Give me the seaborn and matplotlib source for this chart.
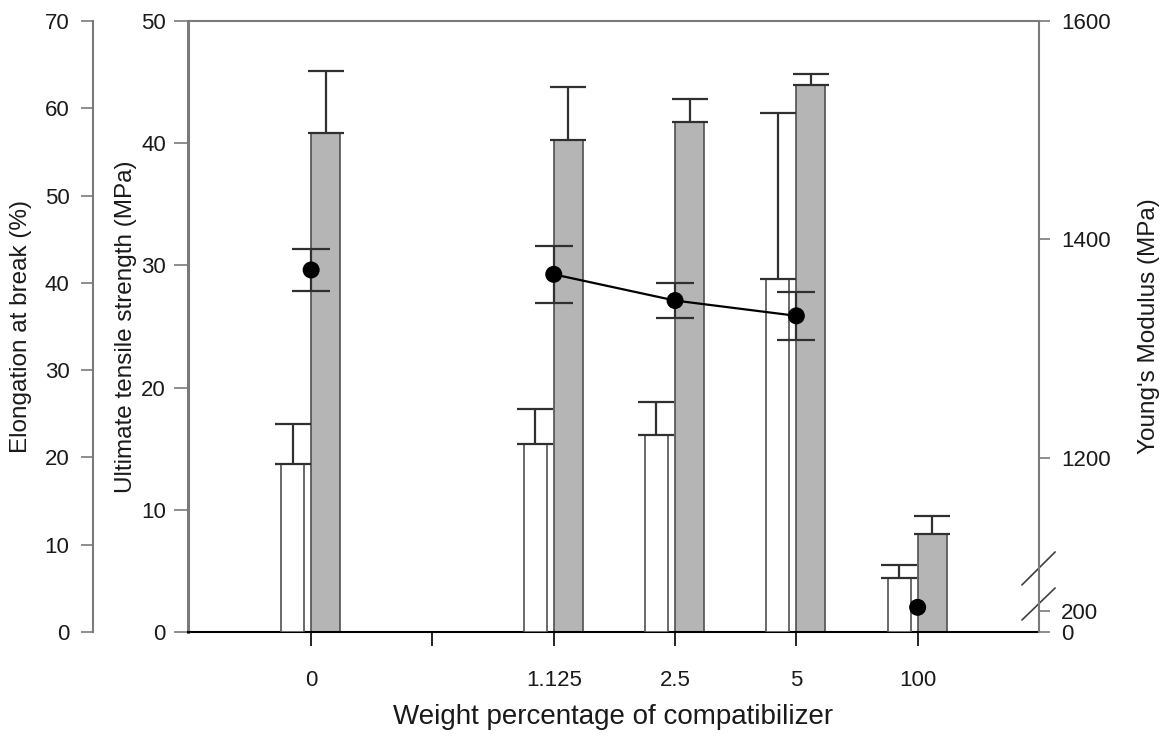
import numpy as np
import pandas as pd
import matplotlib
matplotlib.use('Agg')
import matplotlib.pyplot as plt
import seaborn as sns

# 数据
categories = ['0', '1.125', '2.5', '5', '100']
cat_pos = [0, 2, 3, 4, 5]  # 0 与 1.125 之间留一个空刻度
tick_pos = [0, 1, 2, 3, 4, 5]
tick_labels = ['0', '', '1.125', '2.5', '5', '100']

elongation = [19.2, 21.5, 22.6, 40.4, 6.2]  # Elongation at break (%)
elongation_err = [4.6, 4.1, 3.7, 19.1, 1.5]
tensile = [40.8, 40.3, 41.7, 44.8, 8.0]  # Ultimate tensile strength (MPa)
tensile_err = [5.1, 4.3, 1.9, 0.9, 1.5]
modulus = [1372, 1368, 1344, 1330, 235]  # Young's Modulus (MPa)
modulus_err = [19, 26, 16, 22, 0]
modulus_line = ['1.125', '2.5', '5']  # 用线连接的点

sns.set_theme(style='white')
plt.rcParams['font.family'] = ['Liberation Sans', 'DejaVu Sans']
plt.rcParams['axes.unicode_minus'] = False

df = pd.DataFrame({
    'cat': categories,
    'pos': cat_pos,
    'elong': elongation,
    'elong_err': elongation_err,
    'ts': tensile,
    'ts_err': tensile_err,
    'mod': modulus,
    'mod_err': modulus_err,
})
df['pos_white'] = df['pos'] - 0.153
df['pos_grey'] = df['pos'] + 0.12

spine_grey = '#7a7a7a'
text_col = '#1a1a1a'
tick_fs = 16
label_fs = 17.5

fig = plt.figure(figsize=(11.65, 7.36), dpi=100)
ax = fig.add_axes([0.1614, 0.1413, 0.7304, 0.8302])  # 拉伸强度轴(内侧左)
ax_el = ax.twinx()  # 断裂伸长率轴(外侧左)
ax_mod = ax.twinx()  # 杨氏模量轴(右)

# 灰色柱: 拉伸强度
sns.barplot(data=df, x='pos_grey', y='ts', native_scale=True, width=0.24,
            color='#b5b5b5', saturation=1, edgecolor='#505050', linewidth=1.2,
            errorbar=None, ax=ax)
ax.errorbar(df['pos_grey'], df['ts'], yerr=[np.zeros(len(df)), df['ts_err']],
            fmt='none', ecolor='#303030', elinewidth=1.6, capsize=13, capthick=1.6)

# 白色柱: 断裂伸长率
sns.barplot(data=df, x='pos_white', y='elong', native_scale=True, width=0.19,
            color='white', saturation=1, edgecolor='#505050', linewidth=1.2,
            errorbar=None, ax=ax_el)
ax_el.errorbar(df['pos_white'], df['elong'], yerr=[np.zeros(len(df)), df['elong_err']],
               fmt='none', ecolor='#303030', elinewidth=1.6, capsize=13, capthick=1.6)

# 杨氏模量 - 断轴(分段线性刻度)
mod_in = [0, 300, 1100, 1600]
mod_out = [0, 31.5, 65, 611]
ax_mod.set_yscale('function', functions=(lambda v: np.interp(v, mod_in, mod_out),
                                         lambda t: np.interp(t, mod_out, mod_in)))
sns.lineplot(data=df[df['cat'].isin(modulus_line)], x='pos', y='mod', color='black',
             linewidth=1.6, ax=ax_mod, legend=False)
err_rows = df[df['mod_err'] > 0]
ax_mod.errorbar(err_rows['pos'], err_rows['mod'], yerr=err_rows['mod_err'], fmt='none',
                ecolor='#303030', elinewidth=1.6, capsize=14, capthick=1.6)
sns.scatterplot(data=df, x='pos', y='mod', color='black', s=150, edgecolor='none',
                ax=ax_mod, legend=False, zorder=5)

# 坐标范围
for a in (ax, ax_el, ax_mod):
    a.set_xlim(-1.015, 6.0)
ax.set_ylim(0, 50)
ax_el.set_ylim(0, 70)
ax_mod.set_ylim(0, 1600)

# x 轴
ax.set_xticks(tick_pos)
ax.set_xticklabels(tick_labels)
ax.tick_params(axis='x', direction='out', length=10, width=1.2, color='black',
               pad=17, labelsize=tick_fs, labelcolor=text_col, bottom=True)
ax.set_xlabel('Weight percentage of compatibilizer', fontsize=20, color=text_col)
ax.xaxis.set_label_coords(0.5, -0.118)

# 内侧左轴
ax.set_yticks(np.arange(0, 51, 10))
ax.tick_params(axis='y', direction='out', length=10, width=1.2, color=spine_grey,
               labelsize=tick_fs, labelcolor=text_col, left=True, pad=6)
ax.set_ylabel('Ultimate tensile strength (MPa)', fontsize=label_fs, color=text_col)
ax.yaxis.set_label_coords(-0.060, 0.5)

# 外侧左轴
ax_el.yaxis.set_ticks_position('left')
ax_el.yaxis.set_label_position('left')
ax_el.spines['left'].set_position(('outward', 68.4))
ax_el.set_yticks(np.arange(0, 71, 10))
ax_el.tick_params(axis='y', direction='out', length=9, width=1.2, color=spine_grey,
                  labelsize=tick_fs, labelcolor=text_col, left=True, right=False, pad=8)
ax_el.set_ylabel('Elongation at break (%)', fontsize=label_fs, color=text_col)
ax_el.yaxis.set_label_coords(-0.183, 0.5)
ax_el.set_xlabel('')

# 右轴
ax_mod.set_yticks([0, 200, 1200, 1400, 1600])
ax_mod.set_yticklabels(['0', '200', '1200', '1400', '1600'])
ax_mod.yaxis.set_minor_locator(matplotlib.ticker.NullLocator())
ax_mod.tick_params(axis='y', direction='out', length=8, width=1.2, color=spine_grey,
                   labelsize=tick_fs, labelcolor=text_col, right=True, left=False, pad=8)
ax_mod.set_ylabel("Young's Modulus (MPa)", fontsize=label_fs, color=text_col)
ax_mod.yaxis.set_label_coords(1.116, 0.5)
ax_mod.set_xlabel('')

# 边框
for a in (ax, ax_el, ax_mod):
    for s in a.spines.values():
        s.set_visible(False)
ax.spines['bottom'].set_visible(True)
ax.spines['bottom'].set_color('black')
ax.spines['bottom'].set_linewidth(1.5)
ax.spines['top'].set_visible(True)
ax.spines['top'].set_color(spine_grey)
ax.spines['top'].set_linewidth(1.5)
ax.spines['left'].set_visible(True)
ax.spines['left'].set_color(spine_grey)
ax.spines['left'].set_linewidth(2.2)
ax_el.spines['left'].set_visible(True)
ax_el.spines['left'].set_color(spine_grey)
ax_el.spines['left'].set_linewidth(1.5)
ax_mod.spines['right'].set_visible(True)
ax_mod.spines['right'].set_color(spine_grey)
ax_mod.spines['right'].set_linewidth(1.5)

# 断轴标记
for y0, y1 in [(0.0196, 0.072), (0.077, 0.131)]:
    ax_mod.plot([0.980, 1.019], [y0, y1], transform=ax_mod.transAxes, color='#404040',
                linewidth=1.2, clip_on=False)

fig.savefig('out.png', dpi=100)
plt.close(fig)
